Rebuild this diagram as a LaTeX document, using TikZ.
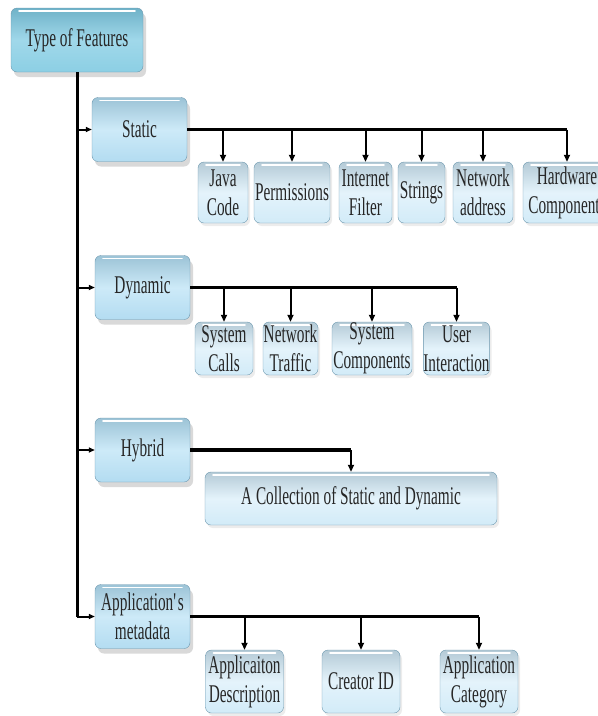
\documentclass[tikz,border=0pt]{standalone}
\usepackage{fontspec}
\setmainfont[FakeStretch=0.6]{Liberation Serif}
\usetikzlibrary{arrows.meta}
\usetikzlibrary{shadows}
\definecolor[named]{RootTop}{HTML}{6FB2C8}
\definecolor[named]{RootMid}{HTML}{A0D8EA}
\definecolor[named]{RootBot}{HTML}{8CCFE4}
\definecolor[named]{CatTop}{HTML}{9CC3D6}
\definecolor[named]{CatMid}{HTML}{CDEAF8}
\definecolor[named]{CatBot}{HTML}{B3DCF1}
\definecolor[named]{LeafTop}{HTML}{B4CAD6}
\definecolor[named]{LeafMid}{HTML}{E4F3FB}
\definecolor[named]{LeafBot}{HTML}{D2EBF8}
\definecolor[named]{BoxLine}{HTML}{6C97AE}
\tikzset{
  box/.style={draw=BoxLine,rounded corners=6pt,inner sep=0pt,align=center,
    text=black!85,font=\fontsize{25.5}{29}\selectfont,
    path picture={
      \draw[white,line width=1.6pt,line cap=round]
        ([xshift=8pt,yshift=-3pt]path picture bounding box.north west)
        -- ([xshift=-8pt,yshift=-3pt]path picture bounding box.north east);
    }},
  rootbox/.style={box,top color=RootTop,bottom color=RootBot,middle color=RootMid,
    drop shadow={shadow xshift=3pt,shadow yshift=-5pt,opacity=0.3}},
  catbox/.style={box,top color=CatTop,bottom color=CatBot,middle color=CatMid,
    drop shadow={shadow xshift=3pt,shadow yshift=-5pt,opacity=0.3}},
  leafbox/.style={box,top color=LeafTop,bottom color=LeafBot,middle color=LeafMid,
    drop shadow={shadow xshift=2pt,shadow yshift=-3pt,opacity=0.15}},
  trunk/.style={line width=3pt},
  branch/.style={line width=2pt,-{Triangle[length=6pt,width=5pt]}},
  bus/.style={line width=3.5pt},
  droparrow/.style={line width=2pt,-{Triangle[length=7pt,width=6pt]}}
}

\begin{document}
\begin{tikzpicture}[x=1pt,y=-1pt]
  \useasboundingbox (0,0) rectangle (598,716);
  \clip (0,0) rectangle (598,716);

  \node[rootbox,minimum width=132pt,minimum height=64pt] (root) at (77,40) {Type of Features};

  \begin{scope}[every node/.style={catbox,minimum width=95pt,minimum height=64pt}]
    \node (static)  at (139.5,129.5) {Static};
    \node (dynamic) at (142.5,287.5) {Dynamic};
    \node (hybrid)  at (142.5,450) {Hybrid};
    \node (meta)    at (142.5,616.5) {Application\textquotesingle s\\metadata};
  \end{scope}

  % static features
  \begin{scope}[every node/.style={leafbox,minimum height=61pt}]
    \node[minimum width=50pt] (java)    at (223,192.5) {Java\\Code};
    \node[minimum width=76pt] (perm)    at (292,192.5) {Permissions};
    \node[minimum width=53pt] (inet)    at (365.5,192.5) {Internet\\Filter};
    \node[minimum width=47pt] (strs)    at (421.5,192.5) {Strings};
    \node[minimum width=60pt] (netaddr) at (483,192.5) {Network\\address};
    \node[minimum width=88pt] (hw)      at (567,192.5) {Hardware\\Components};
  \end{scope}

  % dynamic features
  \begin{scope}[every node/.style={leafbox,minimum height=53pt}]
    \node[minimum width=58pt] (syscall) at (224,348.5) {System\\Calls};
    \node[minimum width=55pt] (nettraf) at (290.5,348.5) {Network\\Traffic};
    \node[minimum width=80pt] (syscomp) at (372,348.5) {System\\Components};
    \node[minimum width=63pt] (userint) at (456.5,348.5) {User\\Interaction};
  \end{scope}

  \node[leafbox,minimum width=292pt,minimum height=53pt] (collect) at (351,498.5)
    {A Collection of Static and Dynamic};

  % metadata features
  \begin{scope}[every node/.style={leafbox,minimum width=78pt,minimum height=63pt}]
    \node (appdesc) at (244.5,681.5) {Applicaiton\\Description};
    \node (creator) at (361,681.5) {Creator ID};
    \node (appcat)  at (479,681.5) {Application\\Category};
  \end{scope}

  \draw[trunk] (root.south) -- (root.south |- meta.west);
  \foreach \n in {static,dynamic,hybrid,meta}
    \draw[branch] (root.south |- \n.west) -- (\n.west);

  \draw[bus] (static.east) -- (static.east -| hw.north);
  \foreach \n in {java,perm,inet,strs,netaddr,hw}
    \draw[droparrow] (static.east -| \n.north) -- (\n.north);

  \draw[bus] (dynamic.east) -- (dynamic.east -| userint.north);
  \foreach \n in {syscall,nettraf,syscomp,userint}
    \draw[droparrow] (dynamic.east -| \n.north) -- (\n.north);

  \draw[bus] (hybrid.east) -- (hybrid.east -| collect.north);
  \draw[droparrow] (hybrid.east -| collect.north) -- (collect.north);

  \draw[bus] (meta.east) -- (meta.east -| appcat.north);
  \foreach \n in {appdesc,creator,appcat}
    \draw[droparrow] (meta.east -| \n.north) -- (\n.north);
\end{tikzpicture}
\end{document}
